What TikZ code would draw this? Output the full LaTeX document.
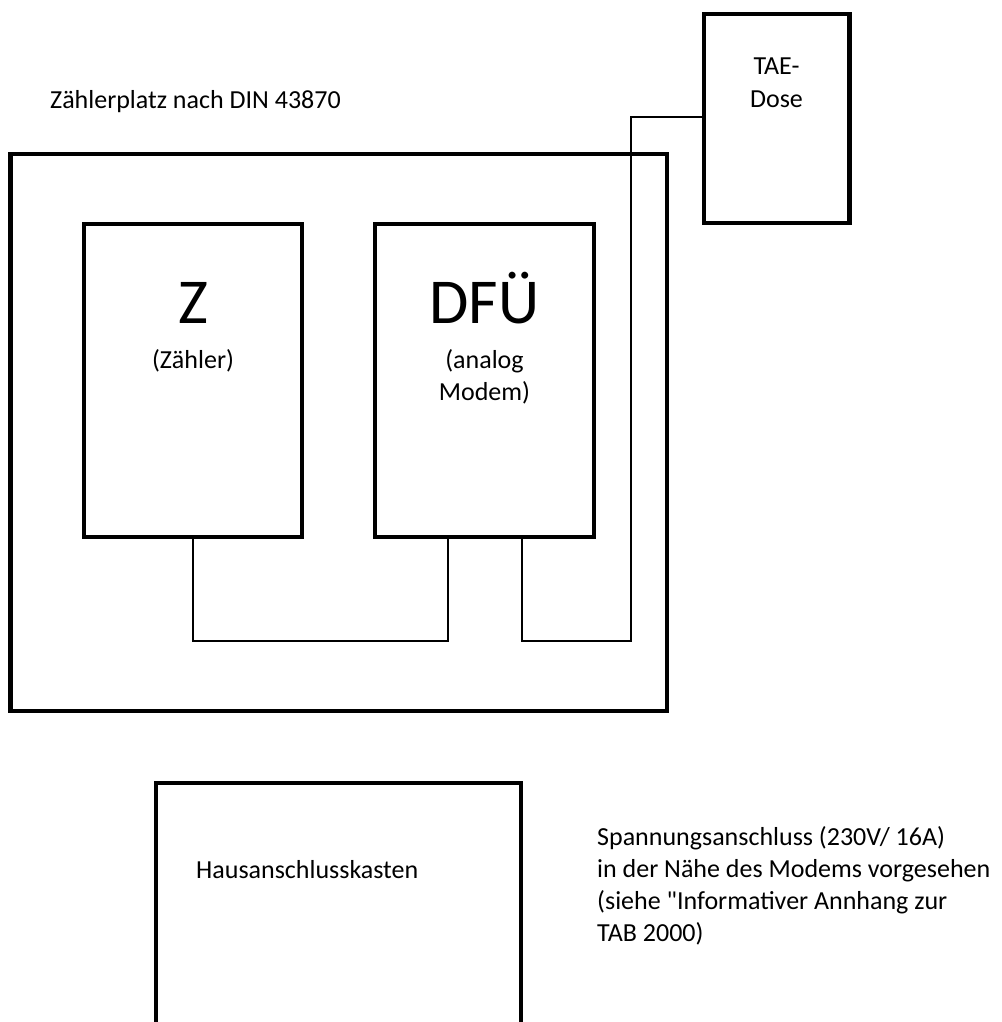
\documentclass[tikz,border=0pt]{standalone}
\usepackage{fontspec}
\setmainfont{Carlito}[Ligatures=TeXOff]
\begin{document}
\begin{tikzpicture}[x=1pt,y=-1pt,
  box/.style={draw, line width=4.5pt, rectangle, anchor=north west, inner sep=0pt, outer sep=0pt, line join=miter},
  heavy/.style={line width=4.5pt, line join=miter},
  wire/.style={line width=2.5pt, line join=miter},
  lbl/.style={font=\fontsize{26}{32}\selectfont, inner sep=0pt},
  big/.style={font=\fontsize{64}{70}\selectfont, inner sep=0pt}]
\useasboundingbox (0,0) rectangle (1001,1022);
\clip (0,0) rectangle (1001,1022);

% boxes
\node[box, minimum width=656.5pt, minimum height=557pt] (outer) at (10.5,154) {};
\node[box, minimum width=218pt, minimum height=313pt] (Z) at (84,224) {};
\node[box, minimum width=219pt, minimum height=313pt] (DFU) at (375,224) {};
\node[box, minimum width=145.5pt, minimum height=209pt] (TAE) at (704,14) {};

% Hausanschlusskasten (open at the bottom)
\coordinate (h1) at (156,1040);
\coordinate (h2) at (156,783);
\coordinate (h3) at (521,783);
\coordinate (h4) at (521,1040);
\draw[heavy] (h1) -- (h2) -- (h3) -- (h4);

% connectors
\coordinate (zdl) at (193,641);
\coordinate (zdr) at (448,641);
\draw[wire] (Z.south) -- (zdl) -- (zdr) -- (zdr |- DFU.south);
\coordinate (t1) at (631,117);
\coordinate (t2) at (631,641);
\coordinate (t3) at (522,641);
\draw[wire] (TAE.west |- t1) -- (t1) -- (t2) -- (t3) -- (t3 |- DFU.south);

% texts
\node[lbl, anchor=base west] (title) at (50,109) {Zählerplatz nach DIN 43870};
\node[lbl, anchor=base] (tae1) at (776.5,75) {TAE-};
\node[lbl, anchor=base] (tae2) at (776.5,108) {Dose};
\node[big, anchor=base] (zt) at (193,323) {Z};
\node[lbl, anchor=base] (zt2) at (193,368) {(Zähler)};
\node[big, anchor=base] (dt) at (484.5,323) {DFÜ};
\node[lbl, anchor=base] (dt2) at (484.5,368) {(analog};
\node[lbl, anchor=base] (dt3) at (484.5,400) {Modem)};
\node[lbl, anchor=base west] (haus) at (196,878) {Hausanschlusskasten};
\node[lbl, anchor=base west] (sp1) at (597,845) {Spannungsanschluss (230V/ 16A)};
\node[lbl, anchor=base west] (sp2) at (597,877) {in der Nähe des Modems vorgesehen};
\node[lbl, anchor=base west] (sp3) at (597,909) {(siehe "Informativer Annhang zur};
\node[lbl, anchor=base west] (sp4) at (597,941) {TAB 2000)};
\end{tikzpicture}
\end{document}
